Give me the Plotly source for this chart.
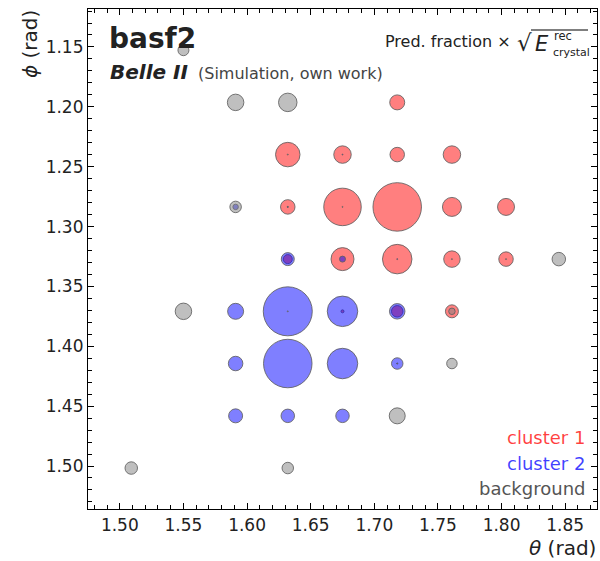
import numpy as np
import plotly.graph_objects as go

# Crystal grid (rad)
theta_cols = [1.509, 1.550, 1.591, 1.632, 1.675, 1.718, 1.761, 1.8035, 1.845]
phi_rows = [1.1527, 1.1963, 1.2399, 1.2836, 1.3272, 1.3708, 1.4144, 1.4581, 1.5017]

# Predicted fraction x sqrt(E_crystal^rec) per class: (theta, phi, value)
cluster1_theta = [1.718, 1.632, 1.675, 1.718, 1.761, 1.632, 1.675, 1.718, 1.761, 1.8035,
                  1.632, 1.675, 1.718, 1.761, 1.8035, 1.675, 1.718, 1.761, 1.718]
cluster1_phi = [1.1963, 1.2399, 1.2399, 1.2399, 1.2399, 1.2836, 1.2836, 1.2836, 1.2836, 1.2836,
                1.3272, 1.3272, 1.3272, 1.3272, 1.3272, 1.3708, 1.3708, 1.3708, 1.4144]
cluster1_val = [0.32, 0.51, 0.37, 0.31, 0.37, 0.31, 0.77, 0.99, 0.40, 0.36,
                0.20, 0.48, 0.61, 0.35, 0.31, 0.08, 0.25, 0.28, 0.03]

cluster2_theta = [1.591, 1.632, 1.675, 1.718, 1.591, 1.632, 1.675, 1.718,
                  1.591, 1.632, 1.675, 1.718, 1.591, 1.632, 1.675, 1.632, 1.675]
cluster2_phi = [1.2836, 1.3272, 1.3272, 1.3272, 1.3708, 1.3708, 1.3708, 1.3708,
                1.4144, 1.4144, 1.4144, 1.4144, 1.4581, 1.4581, 1.4581, 1.2836, 1.2399]
cluster2_val = [0.13, 0.28, 0.14, 0.03, 0.34, 1.00, 0.63, 0.33,
                0.31, 0.99, 0.63, 0.25, 0.30, 0.29, 0.29, 0.03, 0.02]

background_theta = [1.550, 1.591, 1.632, 1.591, 1.845, 1.550, 1.761, 1.761, 1.718, 1.509, 1.632,
                    1.632, 1.632, 1.761, 1.8035, 1.632, 1.675, 1.718]
background_phi = [1.1527, 1.1963, 1.1963, 1.2836, 1.3272, 1.3708, 1.3708, 1.4144, 1.4581, 1.5017, 1.5017,
                  1.2399, 1.2836, 1.3272, 1.3272, 1.3708, 1.2836, 1.4144]
background_val = [0.24, 0.35, 0.39, 0.25, 0.29, 0.35, 0.15, 0.23, 0.34, 0.27, 0.25,
                  0.03, 0.04, 0.03, 0.03, 0.03, 0.02, 0.03]

x_ticks = [1.50, 1.55, 1.60, 1.65, 1.70, 1.75, 1.80, 1.85]
y_ticks = [1.15, 1.20, 1.25, 1.30, 1.35, 1.40, 1.45, 1.50]

SCALE = 50.0      # marker diameter (px) per unit
EDGE_W = 1.0
FONT = "DejaVu Sans"

W, H = 600, 561
L, R, T, B = 88, 597, 9, 509


def px(x):
    return (x - L) / (R - L)


def py(y):
    return (B - y) / (B - T)


fig = go.Figure()

series = [
    ("cluster 1", cluster1_theta, cluster1_phi, cluster1_val, "rgba(255,0,0,0.5)"),
    ("cluster 2", cluster2_theta, cluster2_phi, cluster2_val, "rgba(0,0,255,0.5)"),
    ("background", background_theta, background_phi, background_val, "rgba(128,128,128,0.5)"),
]
for name, th, ph, val, col in series:
    sizes = np.maximum(np.asarray(val) * SCALE - EDGE_W, 1.0)
    fig.add_trace(go.Scatter(
        x=th, y=ph, mode="markers", name=name, showlegend=False,
        marker=dict(size=sizes, sizemode="diameter", color=col, opacity=1,
                    line=dict(color="rgba(95,95,95,0.85)", width=EDGE_W)),
        hoverinfo="skip",
    ))

axis_common = dict(
    showgrid=False, zeroline=False, showline=True, linecolor="black", linewidth=1.2,
    mirror="allticks", ticks="inside", ticklen=6, tickwidth=1, tickcolor="black",
    tickfont=dict(family=FONT, size=17, color="#222222"),
    minor=dict(ticks="inside", ticklen=3.5, tickwidth=1, tickcolor="black", dtick=0.01, showgrid=False),
)

fig.update_xaxes(range=[1.475, 1.875], tickvals=x_ticks,
                 ticktext=[f"{v:.2f}" for v in x_ticks], **axis_common)
fig.update_yaxes(range=[1.5359, 1.1183], tickvals=y_ticks,
                 ticktext=[f"{v:.2f}" for v in y_ticks], **axis_common)

ann = []


def text(x, y, s, size, color="#222222", xanchor="left", yanchor="middle", angle=0):
    ann.append(dict(x=px(x), y=py(y), xref="paper", yref="paper", text=s, showarrow=False,
                    xanchor=xanchor, yanchor=yanchor, textangle=angle,
                    font=dict(family=FONT, size=size, color=color)))


# Axis titles
text(598, 548, "<i>θ</i> (rad)", 20, xanchor="right")
text(30, 8, "<i>ϕ</i> (rad)", 20, xanchor="center", yanchor="top", angle=-90)

# Header
text(107, 38, "<b>basf2</b>", 28)
text(108, 72, "<b><i>Belle II</i></b>", 20)
text(196, 73, "(Simulation, own work)", 16, color="#444444")

# Size label: Pred. fraction x sqrt(E_crystal^rec)
text(513, 42, "Pred. fraction ×", 16, xanchor="right")
text(534, 43, "√", 23, xanchor="right")
text(533, 44, "<i>E</i>", 21, xanchor="left")
text(552, 45, "rec", 11.5, xanchor="left", yanchor="bottom")
text(551, 44, "crystal", 11, xanchor="left", yanchor="top")

# Class labels
text(587, 437, "cluster 1", 18, color="rgba(255,0,0,0.75)", xanchor="right")
text(587, 463, "cluster 2", 18, color="rgba(0,0,255,0.75)", xanchor="right")
text(587, 488, "background", 18, color="#555555", xanchor="right")

fig.update_layout(
    width=W, height=H,
    margin=dict(l=L, r=W - R, t=T, b=H - B),
    paper_bgcolor="white", plot_bgcolor="white",
    annotations=ann,
    shapes=[dict(type="line", xref="paper", yref="paper",
                 x0=px(531), x1=px(588), y0=py(30), y1=py(30),
                 line=dict(color="black", width=1.2))],
)

fig.write_html("out.html")
